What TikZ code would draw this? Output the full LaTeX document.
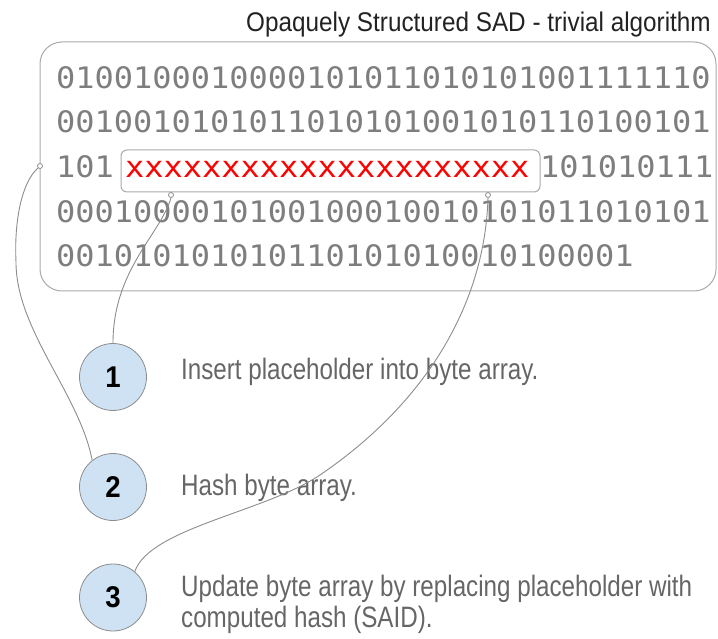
\documentclass[tikz,border=0pt]{standalone}
\usepackage{fontspec}
\setmainfont{Liberation Sans}
\newfontfamily\digitfont[FakeStretch=1.08]{DejaVu Sans Mono}
\newfontfamily\titlefont[FakeStretch=0.9]{Liberation Sans}
\newfontfamily\bodyfont[FakeStretch=0.82]{Liberation Sans}
\newfontfamily\numfont[FakeStretch=0.92]{Liberation Sans}
\definecolor{linegray}{HTML}{8C8C8C}
\definecolor{boxgray}{HTML}{AAAAAA}
\definecolor{digitgray}{HTML}{7E7E7E}
\definecolor{bodygray}{HTML}{666666}
\definecolor{titlegray}{HTML}{222222}
\definecolor{stepblue}{HTML}{CFE2F3}
\definecolor{xred}{HTML}{FF0000}
\tikzset{
  digits/.style={anchor=base west, inner sep=0, text=digitgray, font={\digitfont\fontsize{29.6pt}{32pt}\selectfont}},
  xs/.style={anchor=base west, inner sep=0, text=xred, font={\digitfont\fontsize{29.6pt}{32pt}\selectfont}},
  bodytext/.style={anchor=base west, inner sep=0, text=bodygray, font={\bodyfont\fontsize{29.5pt}{34pt}\selectfont}},
  stepcircle/.style={circle, draw=linegray, fill=stepblue, minimum size=67pt, inner sep=0, line width=0.8pt, font={\numfont\bfseries\fontsize{30pt}{32pt}\selectfont}},
  dot/.style={circle, draw=linegray, fill=white, inner sep=0, minimum size=5pt, line width=0.8pt},
  conn/.style={draw=linegray, line width=0.9pt},
}
\begin{document}
\begin{tikzpicture}[x=1pt,y=-1pt]
\useasboundingbox (0,0) rectangle (718,639);
% title
\node[anchor=base east, inner sep=0, text=titlegray, font={\titlefont\fontsize{27pt}{30pt}\selectfont}] (title) at (711,31.5) {Opaquely Structured SAD - trivial algorithm};
% outer box
\node[draw=boxgray, rounded corners=22pt, minimum width=676pt, minimum height=249pt, inner sep=0, line width=1pt] (outer) at (378,166.5) {};
% placeholder box
\node[draw=boxgray, fill=white, rounded corners=6pt, minimum width=419pt, minimum height=42pt, inner sep=0, line width=1pt] (ph) at (330.5,171) {};
% digit rows
\node[digits] (r1) at (56,88.3) {0100100010000101011010101001111110};
\node[digits] (r2) at (56,132.9) {0010010101011010101001010110100101};
\node[digits] (r3a) at (56,177.5) {101};
\node[xs] (xx) at (125,177.5) {xxxxxxxxxxxxxxxxxxxxx};
\node[digits] (r3b) at (540,177.5) {101010111};
\node[digits] (r4) at (56,222.1) {0001000010100100010010101011010101};
\node[digits] (r5) at (56,266.7) {001010101010110101010010100001};
% steps
\node[stepcircle] (c1) at (113,377) {1};
\node[stepcircle] (c2) at (113,487) {2};
\node[stepcircle] (c3) at (113,597.5) {3};
\node[bodytext] (t1) at (181,379) {Insert placeholder into byte array.};
\node[bodytext] (t2) at (181,495.5) {Hash byte array.};
\node[bodytext] (t3a) at (181,596) {Update byte array by replacing placeholder with};
\node[bodytext] (t3b) at (181,627) {computed hash (SAID).};
% connector end dots
\node[dot] (d1) at (171,195) {};
\node[dot] (d2) at (40,166) {};
\node[dot] (d3) at (488,195) {};
\coordinate (m2) at (16,262);
\coordinate (m3) at (320,475);
% connectors
\draw[conn] (d1.south) .. controls (160,235) and (113,270) .. (c1.north);
\draw[conn] (d2.225) .. controls (22,182) and (14,220) .. (m2)
            .. controls (16,330) and (80,395) .. (c2.128);
\draw[conn] (d3.south) .. controls (485,300) and (430,400) .. (m3)
            .. controls (265,512) and (150,528) .. (c3.50);
\end{tikzpicture}
\end{document}
